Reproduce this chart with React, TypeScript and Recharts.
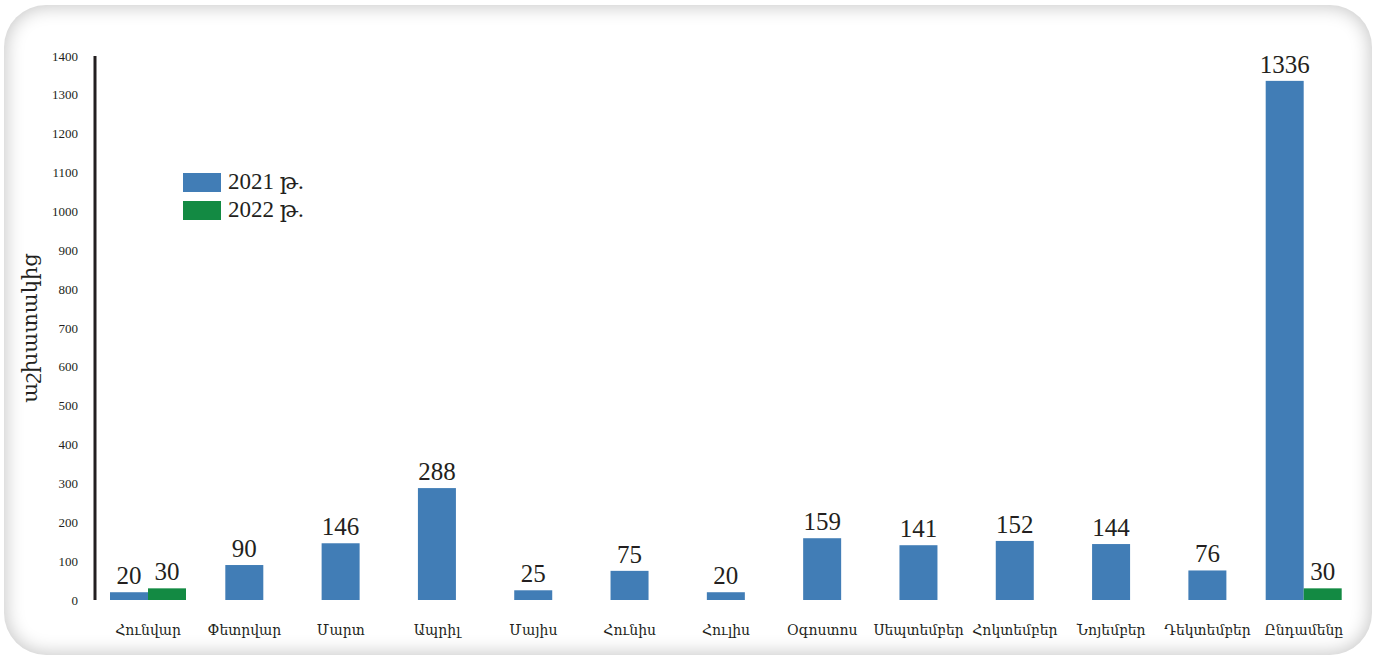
import { BarChart, Bar, XAxis, YAxis } from 'recharts'

const months = [
  'Հունվար', 'Փետրվար', 'Մարտ', 'Ապրիլ', 'Մայիս', 'Հունիս', 'Հուլիս',
  'Օգոստոս', 'Սեպտեմբեր', 'Հոկտեմբեր', 'Նոյեմբեր', 'Դեկտեմբեր', 'Ընդամենը',
]
const values2021 = [20, 90, 146, 288, 25, 75, 20, 159, 141, 152, 144, 76, 1336]
const values2022: (number | null)[] = [30, null, null, null, null, null, null, null, null, null, null, null, 30]
const yTicks = [0, 100, 200, 300, 400, 500, 600, 700, 800, 900, 1000, 1100, 1200, 1300, 1400]

const BLUE = '#417db6'
const GREEN = '#138a43'
const INK = '#231f20'
const SERIF = '"Liberation Serif", "DejaVu Serif", serif'

const data = months.map((m, i) => ({ month: m, y2021: values2021[i], y2022: values2022[i] }))

// a bar with its value above; the 2021 bar is centred when there is no 2022 value
const makeShape = (fill: string, centreIfAlone: boolean) => (props: any) => {
  const { x, y, width, height, payload, value } = props
  if (value == null || height == null) return <g />
  const shift = centreIfAlone && payload.y2022 == null ? width / 2 : 0
  const v = Array.isArray(value) ? value[1] - value[0] : value
  return (
    <g>
      <rect x={x + shift} y={y} width={width} height={height} fill={fill} />
      <text
        x={x + shift + width / 2}
        y={y - 8}
        textAnchor="middle"
        fontFamily={SERIF}
        fontSize={25}
        fill={INK}
      >
        {v}
      </text>
    </g>
  )
}

const legendItems = [
  { label: '2021 թ.', color: BLUE },
  { label: '2022 թ.', color: GREEN },
]

export default function App() {
  return (
    <div style={{ position: 'relative', width: 1381, height: 658 }}>
      <style>{'body{margin:0;background:#fff}'}</style>
      <div
        style={{
          position: 'absolute',
          left: 4,
          top: 5,
          width: 1368,
          height: 650,
          borderRadius: 42,
          background: '#fff',
          boxShadow: 'inset 0 0 18px 2px rgba(0,0,0,0.22)',
        }}
      />
      <div style={{ position: 'absolute', left: 0, top: 0 }}>
        <BarChart
          width={1381}
          height={658}
          data={data}
          margin={{ top: 56, right: 29, bottom: 18, left: 0 }}
          barSize={38}
          barGap={0}
        >
          <XAxis
            dataKey="month"
            axisLine={false}
            tickLine={false}
            tickSize={0}
            tickMargin={25}
            height={40}
            interval={0}
            padding={{ left: 5, right: 0 }}
            tick={{ fontFamily: '"DejaVu Serif", serif', fontSize: 14, fill: INK }}
          />
          <YAxis
            width={95}
            domain={[0, 1400]}
            ticks={yTicks}
            interval={0}
            tickLine={false}
            tickSize={0}
            tickMargin={17}
            axisLine={{ stroke: INK, strokeWidth: 3 }}
            tick={{ fontFamily: SERIF, fontSize: 13, fill: INK }}
            label={{
              content: ({ viewBox }: any) => (
                <text
                  x={0}
                  y={0}
                  transform={`translate(37, ${viewBox.y + viewBox.height / 2}) rotate(-90)`}
                  textAnchor="middle"
                  fontFamily='"DejaVu Serif", serif'
                  fontSize={21}
                  fill={INK}
                >
                  աշխատակից
                </text>
              ),
            }}
          />
          <Bar dataKey="y2021" name="2021 թ." fill={BLUE} isAnimationActive={false} shape={makeShape(BLUE, true)} />
          <Bar dataKey="y2022" name="2022 թ." fill={GREEN} isAnimationActive={false} shape={makeShape(GREEN, false)} />
        </BarChart>
      </div>
      <div
        style={{
          position: 'absolute',
          left: 183,
          top: 168,
          fontFamily: SERIF,
          fontSize: 23,
          color: INK,
          lineHeight: '28px',
        }}
      >
        {legendItems.map((it) => (
          <div key={it.label} style={{ display: 'flex', alignItems: 'center' }}>
            <span style={{ width: 38, height: 19, background: it.color, marginRight: 7, display: 'inline-block' }} />
            <span>{it.label}</span>
          </div>
        ))}
      </div>
    </div>
  )
}
